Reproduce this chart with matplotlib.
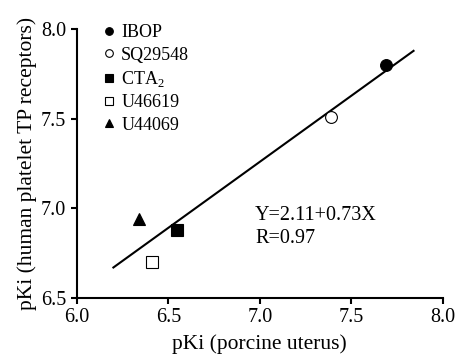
import numpy as np
import matplotlib
matplotlib.use("Agg")
from matplotlib import pyplot as plt
from matplotlib.lines import Line2D

plt.rcParams['font.family'] = ['Liberation Serif', 'DejaVu Serif']
plt.rcParams['mathtext.fontset'] = 'custom'
plt.rcParams['mathtext.rm'] = 'Liberation Serif'

names = ["IBOP", "SQ29548", "CTA$_\\mathrm{2}$", "U46619", "U44069"]
x_uterus = [7.69, 7.39, 6.55, 6.41, 6.34]
y_platelet = [7.80, 7.51, 6.88, 6.70, 6.94]
markers = ["o", "o", "s", "s", "^"]
filled = [True, False, True, False, True]

intercept = 2.10
slope = 0.737
fit_x = [6.2, 7.84]

fig = plt.figure(figsize=(4.57, 3.58), dpi=100)
ax = fig.add_axes([0.168, 0.168, 0.801, 0.751])

fx = np.array(fit_x)
ax.plot(fx, intercept + slope * fx, color="black", lw=1.5, zorder=2)

handles = []
for i in range(len(names)):
    fc = "black" if filled[i] else "white"
    ax.plot(x_uterus[i], y_platelet[i], marker=markers[i], ms=8.5, mfc=fc,
            mec="black", mew=0.8, ls="none", zorder=3)
    handles.append(Line2D([], [], marker=markers[i], ms=5.5, mfc=fc, mec="black",
                          mew=0.8, ls="none", label=names[i]))

ax.legend(handles=handles, loc="upper left", bbox_to_anchor=(0.045, 1.045),
          frameon=False, fontsize=13, handletextpad=0.15, labelspacing=0.3,
          handlelength=1.0, borderaxespad=0)

ax.text(6.975, 6.96, "Y=2.11+0.73X", fontsize=14.5, va="center")
ax.text(6.975, 6.83, "R=0.97", fontsize=14.5, va="center")

ax.set_xlim(6.0, 8.0)
ax.set_ylim(6.5, 8.0)
ax.set_xticks([6.0, 6.5, 7.0, 7.5, 8.0])
ax.set_yticks([6.5, 7.0, 7.5, 8.0])
ax.set_xticklabels(["6.0", "6.5", "7.0", "7.5", "8.0"])
ax.set_yticklabels(["6.5", "7.0", "7.5", "8.0"])
for s in ["top", "right"]:
    ax.spines[s].set_visible(False)
for s in ["left", "bottom"]:
    ax.spines[s].set_linewidth(1.5)
ax.tick_params(direction="out", length=4, width=1.5, labelsize=14.5)
ax.set_xlabel("pKi (porcine uterus)", fontsize=15.5, labelpad=5)
ax.set_ylabel("pKi (human platelet TP receptors)", fontsize=15.5, labelpad=3)

fig.savefig("out.png", dpi=100)
